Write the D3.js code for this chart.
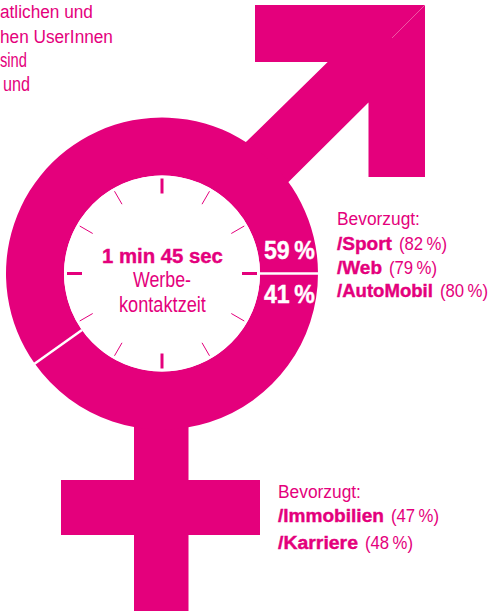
<!DOCTYPE html>
<html lang="de">
<head>
    <meta charset="UTF-8">
    <title>Werbekontaktzeit</title>
    <script src="https://d3js.org/d3.v7.min.js"></script>
    <style>
        html, body { margin: 0; padding: 0; background: #fff; }
        svg { display: block; }
        text { font-family: "Liberation Sans", sans-serif; }
    </style>
</head>
<body>
    <div id="chart"></div>

    <script>
        // Data
        var shareLabels = ["59\u2009%", "41\u2009%"];
        var ringShares = [40.2, 59.8]; // clockwise from 3 o'clock, divider as drawn in the picture
        var clockTicks = d3.range(12);
        var introLines = ["atlichen und", "hen UserInnen", "sind", "und"];
        var centerTitle = "1 min 45 sec";
        var centerLines = ["Werbe-", "kontaktzeit"];
        var preferLabel = "Bevorzugt:";
        var maleChannels = ["/Sport", "/Web", "/AutoMobil"];
        var maleValues = [82, 79, 80];
        var femaleChannels = ["/Immobilien", "/Karriere"];
        var femaleValues = [47, 48];

        var width = 491, height = 614;
        var pink = "#e4007c";
        var cx = 162, cy = 273.5, rOuter = 156, rInner = 98;

        var svg = d3.select("#chart").append("svg")
            .attr("width", width)
            .attr("height", height);

        // Symbol outlines (arrow of the male sign, cross of the female sign)
        var symbol = svg.append("g").attr("fill", pink);
        var line = d3.line();
        symbol.append("path").attr("d", line([
            [255, 5], [425, 5], [425, 177], [368.5, 177], [368.5, 102.5],
            [289, 181.5], [250, 215], [225, 160], [247, 141], [327.7, 62], [255, 62]
        ]) + "Z");
        symbol.append("rect").attr("x", 134).attr("y", 400).attr("width", 54.5).attr("height", 211);
        symbol.append("rect").attr("x", 61).attr("y", 480).attr("width", 199).attr("height", 55);

        // Thin seam in the arrow head
        svg.append("line")
            .attr("x1", 425).attr("y1", 5).attr("x2", 392).attr("y2", 38)
            .attr("stroke", "#f27db5").attr("stroke-width", 0.7);

        // Ring split by shares, starting at 3 o'clock
        var pie = d3.pie().sort(null)
            .startAngle(Math.PI / 2)
            .endAngle(Math.PI / 2 + 2 * Math.PI);
        var arc = d3.arc().innerRadius(rInner).outerRadius(rOuter);
        var ringGroup = svg.append("g").attr("transform", "translate(" + cx + "," + cy + ")");

        ringGroup.selectAll("path")
            .data(pie(ringShares))
            .enter().append("path")
            .attr("d", arc)
            .attr("fill", pink);

        ringGroup.append("circle").attr("r", rInner).attr("fill", "#fff");

        // White dividers on the slice borders
        ringGroup.selectAll("line.divider")
            .data(pie(ringShares))
            .enter().append("line")
            .attr("class", "divider")
            .attr("x1", function(d) { return rInner * Math.sin(d.startAngle); })
            .attr("y1", function(d) { return -rInner * Math.cos(d.startAngle); })
            .attr("x2", function(d) { return (rOuter + 1) * Math.sin(d.startAngle); })
            .attr("y2", function(d) { return -(rOuter + 1) * Math.cos(d.startAngle); })
            .attr("stroke", "#fff")
            .attr("stroke-width", 2.5);

        // Clock ticks
        var tickAngle = d3.scaleLinear().domain([0, 12]).range([0, 2 * Math.PI]);
        ringGroup.selectAll("line.tick")
            .data(clockTicks)
            .enter().append("line")
            .attr("class", "tick")
            .attr("x1", function(d) { return 80 * Math.sin(tickAngle(d)); })
            .attr("y1", function(d) { return -80 * Math.cos(tickAngle(d)); })
            .attr("x2", function(d) { return 95 * Math.sin(tickAngle(d)); })
            .attr("y2", function(d) { return -95 * Math.cos(tickAngle(d)); })
            .attr("stroke", pink)
            .attr("stroke-width", function(d) { return d % 3 === 0 ? 3 : 1; });

        // The original type is condensed, so each label is squeezed to its width
        function label(x, y, txt, size, w, weight, color) {
            var t = svg.append("text")
                .attr("font-size", size)
                .attr("font-weight", weight || "normal")
                .attr("fill", color || pink)
                .text(txt);
            // bold in the original is heavier than Liberation bold
            if (weight === "bold") t.attr("stroke", color || pink).attr("stroke-width", 0.4);
            var sx = w / t.node().getComputedTextLength();
            t.attr("transform", "translate(" + x + "," + y + ") scale(" + sx + ",1)");
            return t;
        }

        // Intro text, starts at the left edge
        label(0, 18, introLines[0], 19, 93);
        label(0, 43, introLines[1], 19, 113);
        label(0, 67, introLines[2], 20, 27);
        label(3, 91, introLines[3], 20, 27);

        // Centre text
        label(102, 263, centerTitle, 21, 121, "bold");
        label(133, 287, centerLines[0], 22, 58);
        label(119, 312, centerLines[1], 22, 87);

        // Share labels in the ring
        label(264, 259, shareLabels[0], 25, 51, "bold", "#fff");
        label(264, 303, shareLabels[1], 25, 51, "bold", "#fff");

        // Preference lists
        function prefs(x, y0, rows, names, values) {
            label(x, y0, preferLabel, 19, 83);
            rows.forEach(function(r, i) {
                label(x, r.y, names[i], 19, r.w, "bold");
                label(x + r.w + 7, r.y, "(" + values[i] + "\u2009%)", 19, 48);
            });
        }
        prefs(337, 225, [{y: 250, w: 55}, {y: 274, w: 45}, {y: 297, w: 96}], maleChannels, maleValues);
        prefs(278, 498, [{y: 522, w: 106}, {y: 549, w: 80}], femaleChannels, femaleValues);
    </script>
</body>
</html>
